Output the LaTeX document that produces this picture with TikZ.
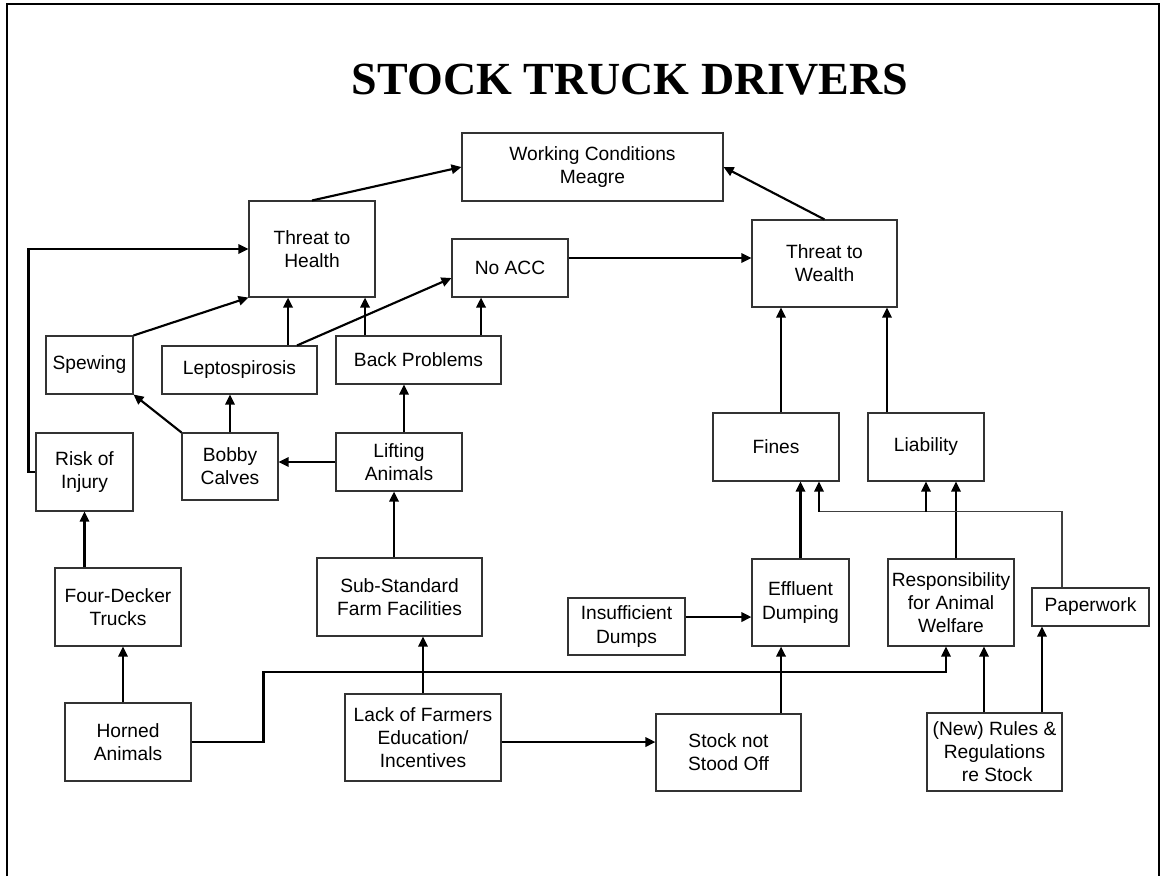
\documentclass[tikz,border=0pt]{standalone}
\usepackage{fontspec}
\setmainfont{Liberation Sans}
\newfontfamily\titleserif{Liberation Serif}
\usetikzlibrary{arrows.meta}

\begin{document}
\begin{tikzpicture}[
    x=0.75pt, y=-0.75pt,
    box/.style={rectangle, draw=black!80, line width=0.8pt, align=center, inner sep=0pt, font=\fontsize{14.4}{17.3}\selectfont},
    boxsize/.style 2 args={minimum width=#1*0.75pt, minimum height=#2*0.75pt},
    arrow/.style={-{Triangle[length=7.5pt,width=7pt]}, line width=1.6pt},
    thinlink/.style={line width=0.8pt, draw=black!75},
    frame/.style={line width=1.5pt},
    heading/.style={font=\titleserif\bfseries\fontsize{34.5}{40}\selectfont}
]

\useasboundingbox (0,0) rectangle (1163,876);

% Frame and title
\draw[frame] (7,876) -- (7,4) -- (1159,4) -- (1159,876);
\node[heading] (title) at (630,80) {STOCK TRUCK DRIVERS};

% Top level
\node[box, boxsize={261}{68}] (working) at (592.5,167) {Working Conditions\\Meagre};
\node[box, boxsize={126}{96}] (health) at (312,249) {Threat to\\Health};
\node[box, boxsize={116}{58}] (noacc) at (510,268) {No ACC};
\node[box, boxsize={145}{87}] (wealth) at (824.5,263.5) {Threat to\\Wealth};

% Health side
\node[box, boxsize={87}{58}] (spewing) at (89.5,365) {Spewing};
\node[box, boxsize={155}{48}] (lepto) at (239.5,370) {Leptospirosis};
\node[box, boxsize={165}{48}] (back) at (418.5,360) {Back Problems};
\node[box, boxsize={97}{78}] (injury) at (84.5,472) {Risk of\\Injury};
\node[box, boxsize={96}{67}] (calves) at (230,466.5) {Bobby\\Calves};
\node[box, boxsize={126}{58}] (lifting) at (399,462) {Lifting\\Animals};
\node[box, boxsize={126}{78}] (trucks) at (118,607) {Four-Decker\\Trucks};
\node[box, boxsize={165}{78}] (facilities) at (399.5,597) {Sub-Standard\\Farm Facilities};
\node[box, boxsize={126}{78}] (horned) at (128,742) {Horned\\Animals};
\node[box, boxsize={156}{87}] (education) at (423,737.5) {Lack of Farmers\\Education/\\Incentives};

% Wealth side
\node[box, boxsize={126}{68}] (fines) at (776,447) {Fines};
\node[box, boxsize={116}{68}] (liability) at (926,447) {Liability};
\node[box, boxsize={117}{57}] (dumps) at (626.5,626.5) {Insufficient\\Dumps};
\node[box, boxsize={97}{87}] (effluent) at (800.5,602.5) {Effluent\\Dumping};
\node[box, boxsize={126}{87}] (welfare) at (951,602.5) {Responsibility\\for Animal\\Welfare};
\node[box, boxsize={117}{38}] (paperwork) at (1090.5,607) {Paperwork};
\node[box, boxsize={145}{77}] (standoff) at (728.5,752.5) {Stock not\\Stood Off};
\node[box, boxsize={135}{78}] (rules) at (994.5,752) {(New) Rules \&\\Regulations\\\ re Stock};

% Into working conditions
\draw[arrow] (health.north) -- (working.west);
\draw[arrow] (wealth.north) -- (working.east);

% No ACC
\coordinate (accout) at ([yshift=7.5pt]noacc.east);
\draw[arrow] (accout) -- (accout -| wealth.west);
\coordinate (backr) at ([xshift=46.9pt]back.north);
\draw[arrow] (backr) -- (backr |- noacc.south);
\coordinate (leptor) at ([xshift=43.1pt]lepto.north);
\draw[arrow] (leptor) -- ([yshift=-7.5pt]noacc.west);

% Threat to health
\coordinate (backl) at ([xshift=-40.1pt]back.north);
\draw[arrow] (backl) -- (backl |- health.south);
\coordinate (leptol) at ([xshift=36.4pt]lepto.north);
\draw[arrow] (leptol) -- (leptol |- health.south);
\draw[arrow] (spewing.north east) -- (health.south west);
\draw[arrow] (injury.west) -- ++(-7,0) |- (health.west);

% Calves and lifting
\draw[arrow] (calves.north west) -- (spewing.south east);
\draw[arrow] (calves.north) -- (calves.north |- lepto.south);
\draw[arrow] (lifting.west) -- (lifting.west -| calves.east);
\coordinate (liftup) at ([xshift=3.75pt]lifting.north);
\draw[arrow] (liftup) -- (liftup |- back.south);
\coordinate (facup) at ([xshift=-4.1pt]facilities.north);
\draw[arrow] (facup) -- (facup |- lifting.south);

% Trucks and horns
\draw[arrow] (injury.south |- trucks.north) -- (injury.south);
\coordinate (hornup) at ([xshift=-3.75pt]horned.north);
\draw[arrow] (hornup) -- (hornup |- trucks.south);
\draw[arrow] (horned.east) -- ++(72,0) -- ++(0,-70) -| ([xshift=-3.75pt]welfare.south);

% Farmers education
\draw[arrow] (education.north) -- (education.north |- facilities.south);
\coordinate (eduout) at ([yshift=-3.4pt]education.east);
\draw[arrow] (eduout) -- (eduout -| standoff.west);

% Effluent and welfare
\coordinate (standup) at ([xshift=39.4pt]standoff.north);
\draw[arrow] (standup) -- (standup |- effluent.south);
\coordinate (dumpout) at ([yshift=7.1pt]dumps.east);
\draw[arrow] (dumpout) -- (dumpout -| effluent.west);
\draw[arrow] (effluent.north) -- (effluent.north |- fines.south);
\coordinate (welfup) at ([xshift=3.75pt]welfare.north);
\draw[arrow] (welfup) -- (welfup |- liability.south);
\coordinate (rulesl) at ([xshift=-7.9pt]rules.north);
\draw[arrow] (rulesl) -- (rulesl |- welfare.south);
\coordinate (rulesr) at ([xshift=35.6pt]rules.north);
\draw[arrow] (rulesr) -- (rulesr |- paperwork.south);

% Paperwork
\coordinate (paperup) at ([xshift=-21.4pt]paperwork.north);
\coordinate (fork) at ([xshift=32.25pt,yshift=-22.5pt]fines.south);
\draw[thinlink] (paperup) |- (fork);
\draw[arrow] (fork) -- (fork |- fines.south);
\draw[arrow] (fork -| liability.south) -- (liability.south);

% Threat to wealth
\coordinate (finesup) at ([xshift=3.75pt]fines.north);
\draw[arrow] (finesup) -- (finesup |- wealth.south);
\coordinate (liabup) at ([xshift=-29.25pt]liability.north);
\draw[arrow] (liabup) -- (liabup |- wealth.south);

\end{tikzpicture}
\end{document}
